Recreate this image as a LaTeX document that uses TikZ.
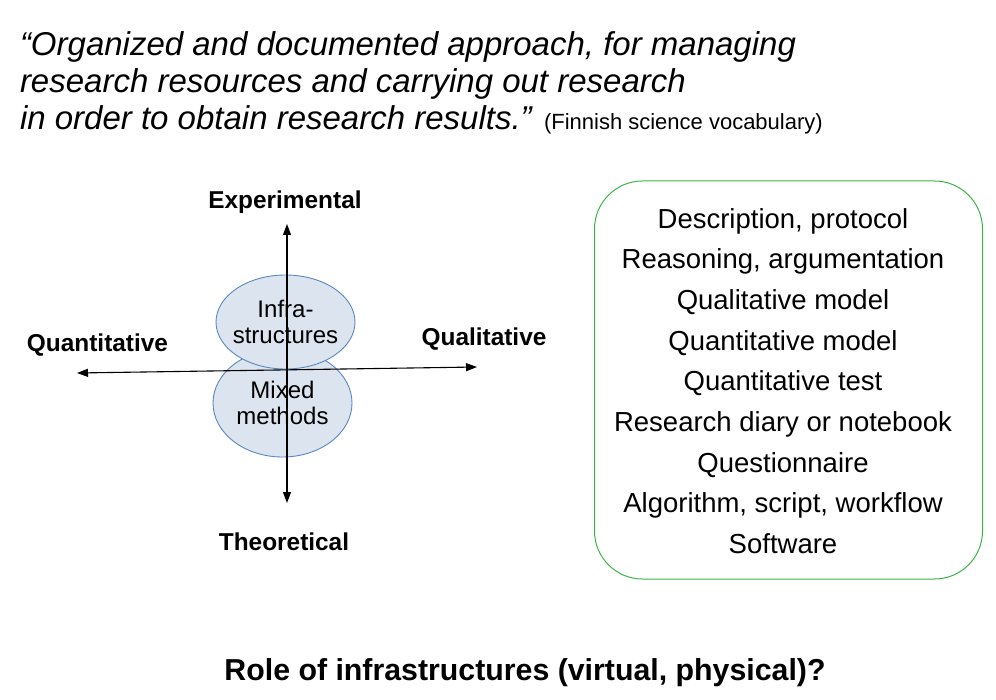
\documentclass[tikz,border=0pt]{standalone}
\usepackage{fontspec}
\setmainfont{Liberation Sans}
\usetikzlibrary{arrows.meta,shapes.geometric}
\definecolor{ovalfill}{HTML}{DCE4EF}
\definecolor{ovaledge}{HTML}{5B87C0}
\definecolor{boxgreen}{HTML}{3CB44B}
\begin{document}
\begin{tikzpicture}[x=1pt,y=-1pt,
  txt/.style={inner sep=0pt, outer sep=0pt},
  quote/.style={txt, anchor=base west, font=\fontsize{33}{37}\selectfont\itshape},
  axislabel/.style={txt, anchor=base, font=\fontsize{24.4}{28}\selectfont\bfseries},
  oval/.style={ellipse, draw=ovaledge, fill=ovalfill, line width=0.9pt,
    inner sep=0pt, outer sep=0pt},
  ovaltext/.style={txt, align=center, font=\fontsize{24}{26.5}\selectfont},
  axis/.style={line width=1.1pt,
    {Triangle[length=11pt,width=8pt]}-{Triangle[length=11pt,width=8pt]}}
]
\useasboundingbox (0,0) rectangle (996,700);

% definition quoted at the top
\node[quote] (q1) at (20,56) {“Organized and documented approach, for managing};
\node[quote] (q2) at (20,93) {research resources and carrying out research};
\node[quote] (q3) at (20,130) {in order to obtain research results.”};
\node[txt, anchor=base west, font=\fontsize{22}{26}\selectfont] (cite) at (544,130) {(Finnish science vocabulary)};

% two overlapping ovals on the axes
\node[oval, minimum width=139pt, minimum height=108pt] (mixed) at (282.5,403) {};
\node[oval, minimum width=139pt, minimum height=94pt] (infra) at (285.5,322) {};
\node[ovaltext] (mixedtext) at (mixed.center) {Mixed\\methods};
\node[ovaltext] (infratext) at (infra.center) {Infra-\\structures};

% axes
\coordinate (vtop) at (287,224);
\coordinate (vbot) at (287,503);
\coordinate (hleft) at (77,373);
\coordinate (hright) at (477,367);
\draw[axis] (vbot) -- (vtop);
\draw[axis] (hleft) -- (hright);

% axis labels
\node[axislabel] (exp) at (285,209) {Experimental};
\node[axislabel] (theo) at (284,550) {Theoretical};
\node[axislabel] (quant) at (97.5,352) {Quantitative};
\node[axislabel] (qual) at (484,346) {Qualitative};

% list of research outputs
\node[draw=boxgreen, line width=1pt, rounded corners=48pt, minimum width=388pt,
  minimum height=398pt, inner sep=0pt] (box) at (788.5,380) {};
\node[txt, align=center, font=\fontsize{27.5}{40.7}\selectfont] (list) at (783,381)
  {Description, protocol\\Reasoning, argumentation\\Qualitative model\\Quantitative model\\
   Quantitative test\\Research diary or notebook\\Questionnaire\\Algorithm, script, workflow\\Software};

% closing question
\node[txt, anchor=base, font=\fontsize{30.3}{34}\selectfont\bfseries] (question) at (525,680)
  {Role of infrastructures (virtual, physical)?};
\end{tikzpicture}
\end{document}
